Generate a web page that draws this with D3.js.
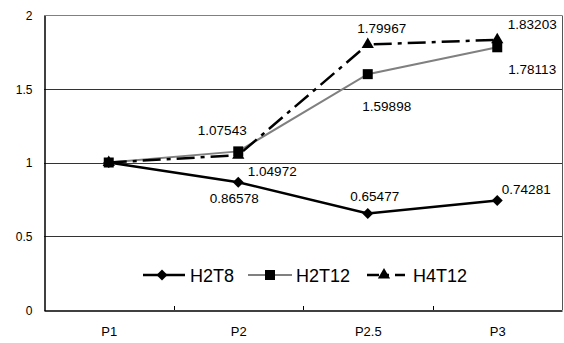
<!DOCTYPE html>
<html>
<head>
<meta charset="utf-8">
<script src="https://cdn.jsdelivr.net/npm/d3@7"></script>
<style>
  body { margin: 0; background: #fff; }
  text { font-family: "Liberation Sans", Arial, sans-serif; }
</style>
</head>
<body>
<div class="viewport"></div>
<script>
// chart data
var categories = ["P1", "P2", "P2.5", "P3"];
var seriesNames = ["H2T8", "H2T12", "H4T12"];
var h2t8 = [1, 0.86578, 0.65477, 0.74281];
var h2t12 = [1, 1.07543, 1.59898, 1.78113];
var h4t12 = [1, 1.04972, 1.79967, 1.83203];
var yTicks = [0, 0.5, 1, 1.5, 2];

// label placement (pixel offsets from the point, null = no label)
var labelOffsets = [
    [null, [-4, 21], [7, -12], [29, -6]],
    [null, [-16, -16], [19, 37], [35, 27]],
    [null, [34, 21], [14, -12], [35, -11]]
];

function letsGo() {

    var width = 564,
        height = 343,
        left = 44,
        right = 562,
        top = 15,
        bottom = 310;

    var svg = d3.select(".viewport").append("svg")
        .attr("width", width)
        .attr("height", height);

    var x = d3.scalePoint().domain(categories).range([left, right]).padding(0.5);
    var xb = d3.scaleBand().domain(categories).range([left, right]);
    var y = d3.scaleLinear().domain([0, 2]).range([bottom, top]);

    // gridlines
    svg.append("g").selectAll("line").data(yTicks.filter(function(d) { return d > 0; }))
        .enter().append("line")
        .attr("x1", left).attr("x2", right)
        .attr("y1", function(d) { return Math.round(y(d)) + 0.5; })
        .attr("y2", function(d) { return Math.round(y(d)) + 0.5; })
        .attr("stroke", function(d) { return d === 2 ? "#808080" : "#333"; })
        .attr("stroke-width", 1);

    // right border
    svg.append("line")
        .attr("x1", right + 0.5).attr("x2", right + 0.5)
        .attr("y1", Math.round(top) + 0.5).attr("y2", bottom)
        .attr("stroke", "#555");

    // y axis
    var yAxis = svg.append("g")
        .attr("transform", "translate(" + (left + 0.5) + ",0.5)")
        .call(d3.axisLeft(y).tickValues(yTicks).tickSize(0).tickPadding(12)
            .tickFormat(function(d) { return d; }));
    yAxis.select(".domain").attr("stroke", "#000").attr("stroke-width", 1.5);
    yAxis.selectAll("text").attr("font-size", 12).attr("fill", "#000")
        .attr("font-family", "Liberation Sans, Arial, sans-serif");

    // x axis
    var xAxis = svg.append("g")
        .attr("transform", "translate(0," + (bottom + 0.5) + ")")
        .call(d3.axisBottom(x).tickSize(0).tickPadding(16));
    xAxis.select(".domain").attr("stroke", "#000").attr("stroke-width", 1.5);
    xAxis.selectAll("text").attr("font-size", 13).attr("fill", "#000")
        .attr("font-family", "Liberation Sans, Arial, sans-serif");

    // inner boundary ticks
    svg.append("g").selectAll("line").data(categories.slice(1))
        .enter().append("line")
        .attr("x1", function(d) { return Math.round(xb(d)) + 0.5; })
        .attr("x2", function(d) { return Math.round(xb(d)) + 0.5; })
        .attr("y1", bottom - 4).attr("y2", bottom)
        .attr("stroke", "#000");

    var styles = [
        { stroke: "#000", width: 2.5, dash: null, marker: d3.symbolSquare, rot: 45, size: 60 },
        { stroke: "#808080", width: 2, dash: null, marker: d3.symbolSquare, rot: 0, size: 100 },
        { stroke: "#000", width: 2.5, dash: "18,6,4,6", marker: d3.symbolTriangle, rot: 0, size: 65 }
    ];

    var allSeries = [h2t8, h2t12, h4t12];

    var line = d3.line()
        .x(function(d, i) { return x(categories[i]); })
        .y(function(d) { return y(d); });

    function markerTransform(px, py, st) {
        return "translate(" + px + "," + py + ") rotate(" + st.rot + ")";
    }

    // lines, drawn so H2T8 is on top
    [1, 2, 0].forEach(function(s) {
        var st = styles[s];
        svg.append("path")
            .datum(allSeries[s])
            .attr("fill", "none")
            .attr("stroke", st.stroke)
            .attr("stroke-width", st.width)
            .attr("stroke-dasharray", st.dash)
            .attr("d", line);
    });

    // markers
    [1, 2, 0].forEach(function(s) {
        var st = styles[s];
        svg.append("g").selectAll("path").data(allSeries[s])
            .enter().append("path")
            .attr("transform", function(d, i) { return markerTransform(x(categories[i]), y(d), st); })
            .attr("d", d3.symbol().type(st.marker).size(st.size))
            .attr("fill", "#000");
    });

    // data labels
    allSeries.forEach(function(series, s) {
        var labels = series.map(function(v, i) {
            return { value: v, cat: categories[i], off: labelOffsets[s][i] };
        }).filter(function(d) { return d.off !== null; });

        svg.append("g").selectAll("text").data(labels)
            .enter().append("text")
            .attr("x", function(d) { return x(d.cat) + d.off[0]; })
            .attr("y", function(d) { return y(d.value) + d.off[1]; })
            .attr("text-anchor", "middle")
            .attr("font-size", 13.5)
            .attr("fill", "#000")
            .text(function(d) { return d.value; });
    });

    // legend
    var legendY = 275;
    var legendItems = [
        { x1: 143, x2: 185, mx: 162, tx: 190 },
        { x1: 248, x2: 292, mx: 270, tx: 296 },
        { x1: 367, x2: 405, mx: 384, tx: 413 }
    ];
    var legend = svg.append("g");
    seriesNames.forEach(function(name, s) {
        var st = styles[s], it = legendItems[s];
        legend.append("line")
            .attr("x1", it.x1).attr("x2", it.x2)
            .attr("y1", legendY).attr("y2", legendY)
            .attr("stroke", st.stroke)
            .attr("stroke-width", st.width)
            .attr("stroke-dasharray", s === 2 ? "12,6,4,6" : null);
        legend.append("path")
            .attr("transform", markerTransform(it.mx, legendY, st))
            .attr("d", d3.symbol().type(st.marker).size(st.size))
            .attr("fill", "#000");
        legend.append("text")
            .attr("x", it.tx).attr("y", legendY + 7)
            .attr("font-size", 18)
            .attr("fill", "#000")
            .text(name);
    });
}

letsGo();
</script>
</body>
</html>
